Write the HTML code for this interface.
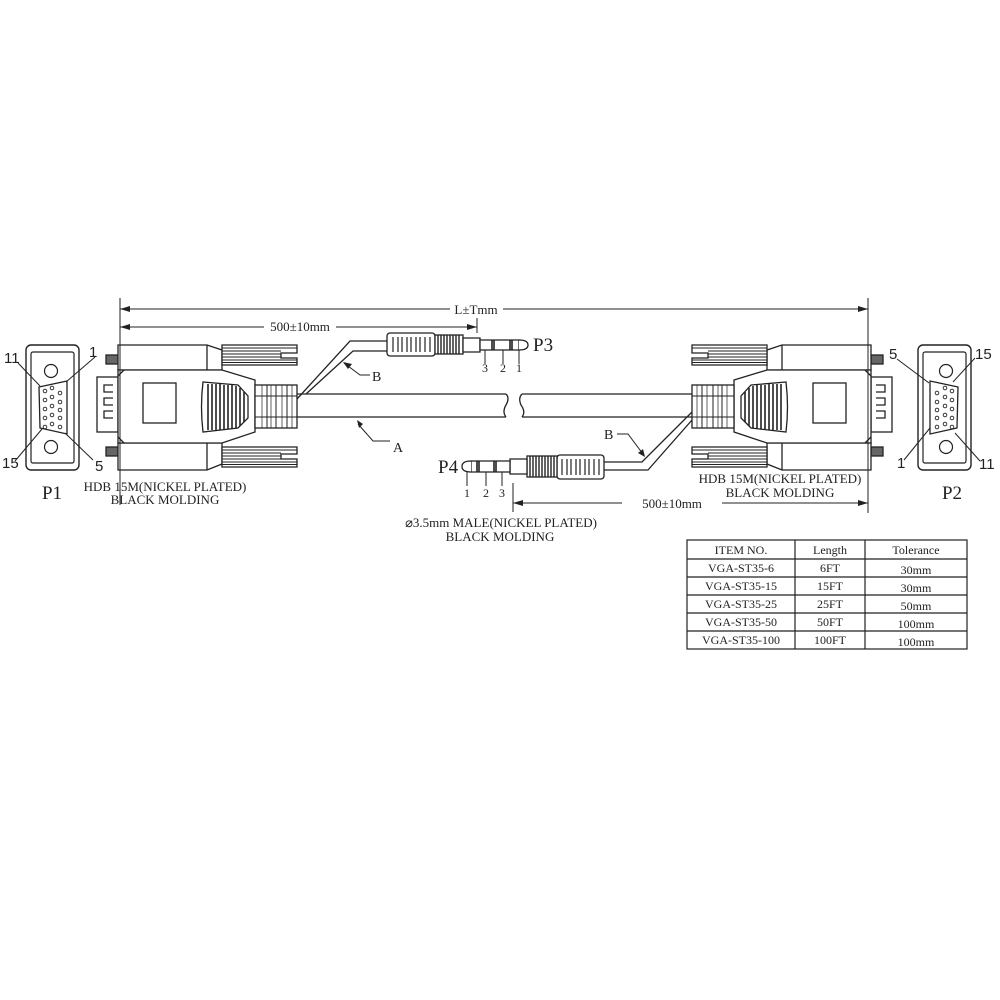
<!DOCTYPE html>
<html><head><meta charset="utf-8"><style>
html,body{margin:0;padding:0;background:#fff}
svg{display:block}
text{font-family:"Liberation Serif",serif;fill:#222}
.s{font-family:"Liberation Sans",sans-serif}
</style></head><body>
<svg width="1000" height="1000" viewBox="0 0 1000 1000" xmlns="http://www.w3.org/2000/svg">
<defs>
<marker id="ar" markerWidth="10" markerHeight="6" refX="10" refY="3" orient="auto" markerUnits="userSpaceOnUse">
<path d="M0,0 L10,3 L0,6 Z" fill="#222"/></marker>
<g id="face">
<rect x="26" y="345" width="53" height="125" rx="5" fill="#fff" stroke="#222" stroke-width="1.4"/>
<rect x="31" y="352" width="43" height="111" rx="2" fill="none" stroke="#222" stroke-width="1.2"/>
<circle cx="51" cy="371" r="6.5" fill="none" stroke="#222" stroke-width="1.2"/>
<circle cx="51" cy="447" r="6.5" fill="none" stroke="#222" stroke-width="1.2"/>
<path d="M39,387 L67,381 L67,434 L40,428 Z" fill="none" stroke="#222" stroke-width="1.3"/>
<g fill="none" stroke="#222" stroke-width="0.9">
<circle cx="45" cy="391" r="1.8"/><circle cx="45" cy="400" r="1.8"/><circle cx="45" cy="409" r="1.8"/><circle cx="45" cy="418" r="1.8"/><circle cx="45" cy="427" r="1.8"/>
<circle cx="52" cy="388" r="1.8"/><circle cx="52" cy="397" r="1.8"/><circle cx="52" cy="406" r="1.8"/><circle cx="52" cy="415" r="1.8"/><circle cx="52" cy="424" r="1.8"/>
<circle cx="60" cy="393" r="1.8"/><circle cx="60" cy="402" r="1.8"/><circle cx="60" cy="410" r="1.8"/><circle cx="60" cy="418" r="1.8"/><circle cx="60" cy="427" r="1.8"/>
</g>
</g>
<g id="conn" fill="#fff" stroke="#222" stroke-width="1.3">
<rect x="106" y="355" width="12" height="9" fill="#666"/>
<rect x="106" y="447" width="12" height="9" fill="#666"/>
<rect x="97" y="377" width="21" height="55"/>
<path d="M113,385 h-9 v7 h9 M113,398 h-9 v7 h9 M113,411 h-9 v7 h9" fill="none"/>
<path d="M118,345 H207 L222,350 V370 H118 Z"/>
<path d="M118,443 H222 V464 L207,470 H118 Z"/>
<line x1="207" y1="345" x2="207" y2="370"/><line x1="207" y1="443" x2="207" y2="470"/>
<path d="M118,370 H222 L255,380 V432 L222,443 H118 Z"/>
<path d="M118,376 L124,370 M118,437 L124,443" fill="none"/>
<rect x="143" y="383" width="33" height="40"/>
<path d="M203,382 L238,385 L248,396 V418 L238,428 L203,432 Q200,407 203,382 Z" fill="#fff"/>
<g stroke-width="1.6"><path d="M208,384 V430 M212,384 V430 M216,384 V430 M220,384 V430 M224,385 V429 M228,385 V429 M232,385 V429 M236,386 V428 M240,388 V426 M244,392 V422" fill="none"/></g>
<path d="M222,345 H297 V353 H281 V358 H297 V365 H222 Z"/>
<path d="M222,447 H297 V454 H281 V459 H297 V467 H222 Z"/>
<path d="M222,348 H297 M222,351 H281 M222,354 H281 M222,357 H281 M222,360 H297 M222,362.5 H297 M222,450 H297 M222,453 H281 M222,456 H281 M222,459 H281 M222,462 H297 M222,464.5 H297" fill="none" stroke-width="1"/>
<rect x="255" y="385" width="42" height="43"/>
<path d="M267,385 V428 M276,385 V428 M287,385 V428 M255,396 H297 M255,417 H297" fill="none" stroke-width="1"/>
<path d="M262,385 V428 M271,385 V428 M282,385 V428 M292,385 V428" fill="none" stroke-width="0.7"/>
</g>
</defs>

<use href="#face"/>
<use href="#face" transform="translate(997,0) scale(-1,1)"/>
<g stroke="#222" stroke-width="1" fill="none">
<path d="M18,363 L40,386 M95,357 L66,382 M15,461 L42,429 M93,460 L65,433"/>
<path d="M897,359 L929,383 M975,358 L953,382 M904,460 L930,428 M980,461 L955,433"/>
</g>
<g class="s" font-size="15">
<text class="s" x="4" y="363">11</text><text class="s" x="89" y="357">1</text>
<text class="s" x="2" y="468">15</text><text class="s" x="95" y="471">5</text>
<text class="s" x="889" y="359">5</text><text class="s" x="975" y="359">15</text>
<text class="s" x="897" y="468">1</text><text class="s" x="979" y="469">11</text>
</g>
<text x="52" y="499" font-size="19" text-anchor="middle">P1</text>
<text x="952" y="499" font-size="19" text-anchor="middle">P2</text>

<use href="#conn"/>
<use href="#conn" transform="translate(989,0) scale(-1,1)"/>

<g fill="none" stroke="#222" stroke-width="1.3">
<path d="M297,394 H506 M297,417 H506"/>
<path d="M506,394 Q510,398 506,405 Q502,412 506,417"/>
<path d="M522,394 Q518,398 521,405 Q526,412 522,417"/>
<path d="M522,394 H692 M522,417 H692"/>
<path d="M297,399 L350,341 H387 M306,394 L353,351 H387"/>
<path d="M692,412 L642,462 H604 M692,420 L648,470 H604"/>
</g>
<g fill="none" stroke="#222" stroke-width="1">
<path d="M344,363 L360,375 H370"/>
<path d="M358,424 L373,441 H390"/>
<path d="M617,434 H628 L643,454"/>
</g>
<path d="M343,362 l9,2 l-4,5 Z" fill="#222"/>
<path d="M357,420 l2,8 l4,-4 Z" fill="#222"/>
<path d="M645,457 l-7,-4 l5,-4 Z" fill="#222"/>
<text x="372" y="381" font-size="14">B</text>
<text x="393" y="452" font-size="14">A</text>
<text x="604" y="439" font-size="14">B</text>

<g stroke="#222" stroke-width="1.3" fill="#fff">
<rect x="387" y="333" width="48" height="23" rx="3"/>
<path d="M393,337 V352 M398,337 V352 M402,337 V352 M407,337 V352 M411,337 V352 M416,337 V352 M420,337 V352 M425,337 V352 M430,337 V352" fill="none" stroke-width="1.2"/>
<rect x="435" y="335" width="28" height="19"/>
<path d="M438,335V354M441,335V354M444,335V354M447,335V354M450,335V354M453,335V354M456,335V354M459,335V354" stroke-width="1.4"/>
<path d="M463,338 H480 V352 H463 Z"/>
<path d="M480,340 H519 V350 H480 Z"/>
<path d="M519,340 Q528,340 528,345 Q528,350 519,350" />
<path d="M492,340 V350 M494,340 V350 M510,340 V350 M512,340 V350" stroke-width="1.6"/>
<path d="M485,350 V364 M503,350 V364 M519,350 V364" fill="none" stroke-width="1"/>
</g>
<text x="485" y="372" font-size="12" text-anchor="middle">3</text>
<text x="503" y="372" font-size="12" text-anchor="middle">2</text>
<text x="519" y="372" font-size="12" text-anchor="middle">1</text>
<text x="533" y="351" font-size="19">P3</text>

<g stroke="#222" stroke-width="1.3" fill="#fff">
<rect x="557" y="455" width="47" height="24" rx="3"/>
<path d="M562,459 V475 M567,459 V475 M571,459 V475 M576,459 V475 M580,459 V475 M585,459 V475 M589,459 V475 M594,459 V475 M599,459 V475" stroke-width="1.2"/>
<rect x="527" y="456" width="30" height="21"/>
<path d="M530,456V477M533,456V477M536,456V477M539,456V477M542,456V477M545,456V477M548,456V477M551,456V477M554,456V477" stroke-width="1.4"/>
<path d="M510,459 H527 V474 H510 Z"/>
<path d="M471,461 H510 V472 H471 Z"/>
<path d="M471,461 Q462,461 462,466.5 Q462,472 471,472"/>
<path d="M477,461 V472 M479,461 V472 M494,461 V472 M496,461 V472" stroke-width="1.6"/>
<path d="M467,472 V486 M486,472 V486 M502,472 V486" fill="none" stroke-width="1"/>
</g>
<text x="467" y="497" font-size="12" text-anchor="middle">1</text>
<text x="486" y="497" font-size="12" text-anchor="middle">2</text>
<text x="502" y="497" font-size="12" text-anchor="middle">3</text>
<text x="438" y="473" font-size="19">P4</text>

<g stroke="#222" stroke-width="1" fill="none">
<path d="M120,298 V505 M868,298 V513 M513,483 V512"/>
<line x1="503" y1="309" x2="868" y2="309" marker-end="url(#ar)"/>
<line x1="450" y1="309" x2="120" y2="309" marker-end="url(#ar)"/>
<line x1="264" y1="327" x2="120" y2="327" marker-end="url(#ar)"/>
<line x1="336" y1="327" x2="477" y2="327" marker-end="url(#ar)"/>
<line x1="477" y1="318" x2="477" y2="333"/>
<line x1="622" y1="503" x2="513" y2="503" marker-end="url(#ar)"/>
<line x1="722" y1="503" x2="868" y2="503" marker-end="url(#ar)"/>
</g>
<text x="476" y="314" font-size="13" text-anchor="middle">L±Tmm</text>
<text x="300" y="331" font-size="13" text-anchor="middle">500±10mm</text>
<text x="672" y="508" font-size="13" text-anchor="middle">500±10mm</text>

<text x="165" y="491" font-size="13" text-anchor="middle">HDB 15M(NICKEL PLATED)</text>
<text x="165" y="504" font-size="13" text-anchor="middle">BLACK MOLDING</text>
<text x="780" y="483" font-size="13" text-anchor="middle">HDB 15M(NICKEL PLATED)</text>
<text x="780" y="497" font-size="13" text-anchor="middle">BLACK MOLDING</text>
<text x="501" y="527" font-size="13" text-anchor="middle">⌀3.5mm  MALE(NICKEL PLATED)</text>
<text x="500" y="541" font-size="13" text-anchor="middle">BLACK MOLDING</text>

<g stroke="#222" stroke-width="1.2" fill="none">
<rect x="687" y="540" width="280" height="109"/>
<path d="M687,559 H967 M687,577 H967 M687,595 H967 M687,613 H967 M687,631 H967 M795,540 V649 M865,540 V649"/>
</g>
<g font-size="12" text-anchor="middle">
<text x="741" y="554">ITEM NO.</text><text x="830" y="554">Length</text><text x="916" y="554">Tolerance</text>
<text x="741" y="572">VGA-ST35-6</text><text x="830" y="572">6FT</text><text x="916" y="574">30mm</text>
<text x="741" y="590">VGA-ST35-15</text><text x="830" y="590">15FT</text><text x="916" y="592">30mm</text>
<text x="741" y="608">VGA-ST35-25</text><text x="830" y="608">25FT</text><text x="916" y="610">50mm</text>
<text x="741" y="626">VGA-ST35-50</text><text x="830" y="626">50FT</text><text x="916" y="628">100mm</text>
<text x="741" y="644">VGA-ST35-100</text><text x="830" y="644">100FT</text><text x="916" y="646">100mm</text>
</g>
</svg>
</body></html>
